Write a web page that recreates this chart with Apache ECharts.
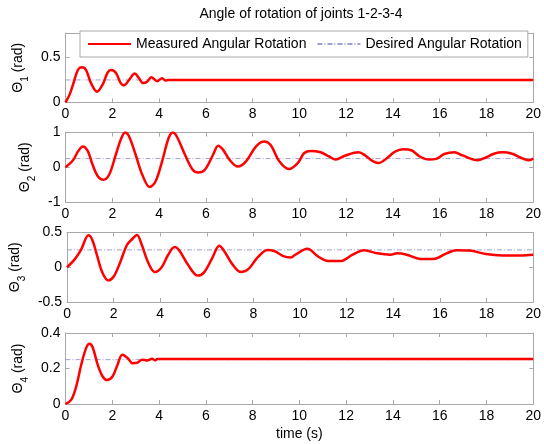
<!DOCTYPE html>
<html>
<head>
<meta charset="utf-8">
<script src="https://cdn.jsdelivr.net/npm/echarts@6/dist/echarts.min.js"></script>
<style>html,body{margin:0;padding:0;background:#fff}#c{width:544px;height:444px}</style>
</head>
<body>
<div id="c"></div>
<script>
// ---- data ----
const titleText = 'Angle of rotation of joints 1-2-3-4';
const legendNames = ['Measured Angular Rotation', 'Desired Angular Rotation'];
const xTicks = [0, 2, 4, 6, 8, 10, 12, 14, 16, 18, 20];
const desiredValue = 0.25;

const joint1 = [[0,0],[0.18,0.09],[0.36,0.23],[0.53,0.36],[0.70,0.39],[0.88,0.36],[1.09,0.215],[1.35,0.12],[1.59,0.2],[1.8,0.33],[1.94,0.36],[2.15,0.33],[2.36,0.215],[2.5,0.19],[2.72,0.25],[2.96,0.32],[3.14,0.27],[3.32,0.215],[3.49,0.23],[3.67,0.28],[3.92,0.235],[4.13,0.27],[4.27,0.245],[4.41,0.25],[20,0.25]];

const joint2 = [[0,0],[0.32,0.2],[0.53,0.45],[0.74,0.6],[0.95,0.47],[1.16,0.07],[1.38,-0.26],[1.62,-0.36],[1.87,-0.21],[2.15,0.36],[2.39,0.84],[2.55,1.0],[2.72,0.885],[3.0,0.36],[3.28,-0.21],[3.6,-0.57],[3.85,-0.41],[4.13,0.17],[4.41,0.84],[4.59,1.0],[4.76,0.885],[5.11,0.36],[5.44,-0.07],[5.68,-0.15],[5.96,-0.07],[6.31,0.36],[6.53,0.62],[6.74,0.5],[7.02,0.21],[7.37,0.02],[7.72,0.17],[8.15,0.6],[8.5,0.74],[8.78,0.63],[9.14,0.17],[9.55,-0.05],[9.93,0.12],[10.21,0.41],[10.49,0.47],[10.91,0.43],[11.27,0.31],[11.55,0.22],[11.97,0.34],[12.54,0.43],[12.82,0.34],[13.1,0.19],[13.38,0.12],[13.74,0.26],[14.09,0.45],[14.44,0.52],[14.79,0.49],[15.15,0.31],[15.54,0.22],[15.85,0.24],[16.2,0.38],[16.63,0.43],[16.98,0.34],[17.62,0.2],[17.97,0.28],[18.32,0.39],[18.68,0.43],[19.1,0.39],[19.45,0.28],[19.8,0.2],[20,0.25]];

const joint3 = [[0,0],[0.32,0.11],[0.6,0.25],[0.92,0.46],[1.09,0.39],[1.3,0.155],[1.52,-0.08],[1.77,-0.19],[2.01,-0.13],[2.29,0.08],[2.57,0.32],[2.81,0.41],[3.0,0.465],[3.21,0.32],[3.49,0.06],[3.77,-0.07],[4.06,0],[4.34,0.18],[4.62,0.29],[4.83,0.235],[5.19,0.035],[5.61,-0.12],[5.89,-0.07],[6.24,0.14],[6.53,0.31],[6.74,0.235],[7.09,0.045],[7.47,-0.07],[7.8,-0.02],[8.15,0.13],[8.6,0.25],[8.92,0.23],[9.28,0.16],[9.6,0.14],[9.79,0.18],[10.31,0.265],[10.77,0.155],[11.2,0.09],[11.76,0.09],[12.25,0.18],[12.75,0.245],[13.31,0.2],[13.88,0.18],[14.16,0.2],[14.58,0.18],[15.15,0.12],[15.71,0.12],[16.28,0.2],[16.7,0.245],[17.26,0.24],[17.97,0.19],[18.68,0.17],[19.45,0.17],[20,0.18]];

const joint4 = [[0,0],[0.25,0.025],[0.46,0.1],[0.67,0.22],[0.88,0.315],[1.02,0.34],[1.16,0.32],[1.38,0.22],[1.59,0.155],[1.77,0.135],[2.01,0.155],[2.22,0.22],[2.43,0.278],[2.65,0.26],[2.86,0.23],[3.07,0.232],[3.28,0.25],[3.49,0.245],[3.70,0.255],[3.84,0.245],[3.92,0.253],[20,0.253]];

const yMins = [0, -1, -0.5, 0];
const yMaxs = [0.77, 1, 0.5, 0.4];
const yIntervals = [0.5, 1, 0.5, 0.2];
const yTickLabels = [[0, 0.5], [-1, 0, 1], [-0.5, 0, 0.5], [0, 0.2, 0.4]];

// ---- layout / style ----
const FONT = "'Liberation Sans', Arial, sans-serif";
const GRAY = '#a8a8a8';
const gridTops = [33, 132.5, 232.5, 333];
const gridHeights = [69.5, 69.5, 69.5, 71];
const measured = [joint1, joint2, joint3, joint4];

const grids = [], xAxes = [], yAxes = [], series = [];
for (let i = 0; i < 4; i++) {
  grids.push({left: 65.5, right: 6, top: gridTops[i], height: gridHeights[i], containLabel: false});
  const common = {
    gridIndex: i, type: 'value', min: 0, max: 20, interval: 2,
    axisLine: {show: true, onZero: false, lineStyle: {color: GRAY, width: 1}},
    axisTick: {show: true, inside: true, length: 4, lineStyle: {color: GRAY}},
    splitLine: {show: false}
  };
  const xb = Object.assign({}, common, {
    position: 'bottom',
    axisLabel: {show: true, color: '#000', fontSize: 14, fontFamily: FONT, margin: 5,
      formatter: v => xTicks.indexOf(v) >= 0 ? String(v) : ''}
  });
  if (i === 3) {
    xb.name = 'time (s)';
    xb.nameLocation = 'middle';
    xb.nameGap = 23;
    xb.nameTextStyle = {color: '#000', fontSize: 14, fontFamily: FONT};
  }
  xAxes.push(xb);
  xAxes.push(Object.assign({}, common, {position: 'top', axisLabel: {show: false}}));

  const ycommon = {
    gridIndex: i, type: 'value', min: yMins[i], max: yMaxs[i], interval: yIntervals[i],
    axisLine: {show: true, onZero: false, lineStyle: {color: GRAY, width: 1}},
    axisTick: {show: true, inside: true, length: 4, lineStyle: {color: GRAY}},
    splitLine: {show: false}
  };
  const ticks = yTickLabels[i];
  yAxes.push(Object.assign({}, ycommon, {
    position: 'left',
    axisLabel: {show: true, color: '#000', fontSize: 14, fontFamily: FONT, margin: 5,
      formatter: v => ticks.some(t => Math.abs(t - v) < 1e-9) ? String(v) : ''},
    name: '{t|\u0398}{s|' + (i + 1) + '}{t| (rad)}',
    nameLocation: 'middle', nameRotate: 90, nameGap: 28,
    nameTextStyle: {
      color: '#000', fontFamily: FONT,
      rich: {
        t: {fontSize: 14, fontFamily: FONT, color: '#000', lineHeight: 16, verticalAlign: 'top'},
        s: {fontSize: 10, fontFamily: FONT, color: '#000', lineHeight: 10, verticalAlign: 'top', padding: [9, 0, 0, 0]}
      }
    }
  }));
  yAxes.push(Object.assign({}, ycommon, {position: 'right', axisLabel: {show: false}}));

  series.push({
    name: legendNames[1], type: 'line', xAxisIndex: 2 * i, yAxisIndex: 2 * i,
    data: [[0, desiredValue], [20, desiredValue]], symbol: 'none', z: 2,
    lineStyle: {color: '#a0a0d4', width: 1, type: [5, 2, 1, 2]},
    itemStyle: {color: '#a0a0d4'}, silent: true, animation: false
  });
  series.push({
    name: legendNames[0], type: 'line', xAxisIndex: 2 * i, yAxisIndex: 2 * i,
    data: measured[i], symbol: 'none', smooth: 0.35, z: 3,
    lineStyle: {color: '#ff0000', width: 2.5},
    itemStyle: {color: '#ff0000'}, silent: true, animation: false
  });
}

const chart = echarts.init(document.getElementById('c'), null, {renderer: 'canvas'});
chart.setOption({
  animation: false,
  backgroundColor: '#fff',
  title: {text: titleText, left: 301, top: 7, padding: 0, textAlign: 'center',
    textStyle: {fontSize: 14, fontWeight: 'normal', color: '#000', fontFamily: FONT}},
  legend: {
    data: [legendNames[0], legendNames[1]],
    left: 80, top: 31, orient: 'horizontal',
    padding: [6, 6, 6, 7], itemGap: 10, itemWidth: 43, itemHeight: 14,
    borderColor: GRAY, borderWidth: 1, backgroundColor: '#fff',
    itemStyle: {opacity: 0},
    textStyle: {fontSize: 14, color: '#000', fontFamily: FONT},
    selectedMode: false, z: 10
  },
  grid: grids, xAxis: xAxes, yAxis: yAxes, series: series
});
</script>
</body>
</html>
